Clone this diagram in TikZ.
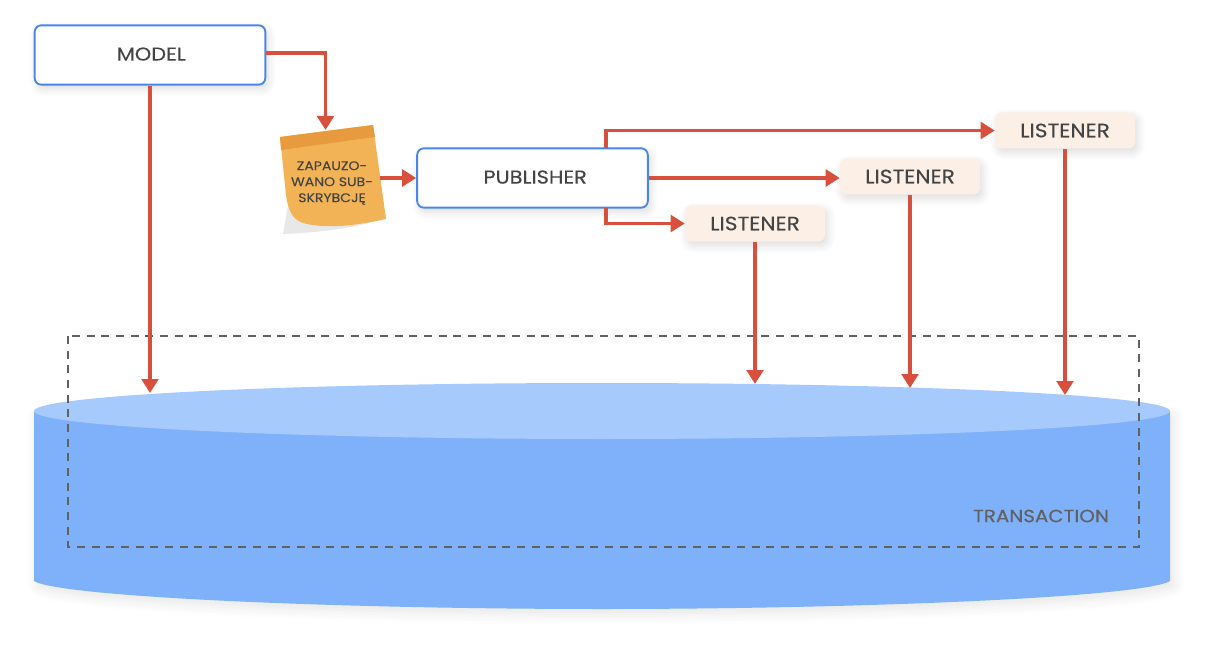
\documentclass[tikz,border=0pt]{standalone}
\usepackage{fontspec}
\setmainfont[FakeStretch=1.12,FakeBold=0.25]{Poppins}
\usepackage{tikz}
\usetikzlibrary{arrows.meta,positioning,shadows.blur}
\definecolor{arrowred}{HTML}{D94F3D}
\definecolor{boxblue}{HTML}{4A86E8}
\definecolor{dbbody}{HTML}{7EB1F9}
\definecolor{dbtop}{HTML}{A6CAFB}
\definecolor{listenfill}{HTML}{FBEFE6}
\definecolor{notefill}{HTML}{F2B356}
\definecolor{noteband}{HTML}{E89B3E}
\definecolor{textgrey}{HTML}{444444}

\begin{document}
\begin{tikzpicture}[x=0.75pt,y=-0.75pt,
  conn/.style={draw=arrowred,line width=2.6pt,-{Triangle[length=10.5pt,width=12.5pt]}},
  softshadow/.style={blur shadow={shadow blur steps=8,shadow xshift=2pt,shadow yshift=-3pt,shadow blur radius=6pt,shadow opacity=14}},
  mainbox/.style={draw=boxblue,line width=1.4pt,fill=white,rounded corners=5pt,minimum width=173pt,minimum height=44.5pt,inner sep=0pt,text depth=1.5pt,softshadow,font=\fontsize{14}{16}\selectfont,text=textgrey},
  listener/.style={fill=listenfill,rounded corners=5pt,minimum width=105pt,minimum height=27pt,inner sep=0pt,softshadow,font=\fontsize{14.5}{16}\selectfont,text=textgrey}]
  \useasboundingbox (0,0) rectangle (1230,652);

  % database
  \fill[dbbody,blur shadow={shadow blur steps=8,shadow xshift=3pt,shadow yshift=-4pt,shadow blur radius=8pt,shadow opacity=10}]
    (34,411) -- (34,581) .. controls (60,597) and (340,609) .. (602,609)
    .. controls (864,609) and (1144,597) .. (1170,581) -- (1170,411) -- cycle;
  \fill[dbtop] (602,411) ellipse [x radius=568,y radius=28];

  % transaction frame
  \draw[draw=black!62,line width=1.4pt,dash pattern=on 6pt off 5pt] (68,336) rectangle (1139,547);
  \node[font=\fontsize{13.3}{15}\selectfont,text=black!62,inner sep=0pt] (trans) at (1041,516) {TRANSACTION};

  % sticky note
  \fill[black!9] (288,205) -- (283,234) .. controls (310,233) and (345,230) .. (372,222) -- cycle;
  \fill[notefill] (280,137) -- (373,125) -- (386,219) .. controls (355,226) and (325,229) .. (303,223)
    .. controls (292,219) and (288,210) .. (286,195) -- cycle;
  \fill[noteband] (280,137) -- (373,125) -- (375,137) -- (281,150) -- cycle;
  \node[align=center,font=\fontsize{9.4}{12}\selectfont,text=textgrey,inner sep=0pt] (note) at (332,183)
    {ZAPAUZO-\\WANO SUB-\\SKRYBCJĘ};

  % boxes
  \node[mainbox] (model) at (150,55) {\hspace*{2pt}MODEL};
  \node[mainbox] (publisher) at (532.5,178) {\hspace*{4pt}PUBLISHER};
  \node[listener] (listenA) at (755,223.5) {LISTENER};
  \node[listener] (listenB) at (910,176.5) {LISTENER};
  \node[listener] (listenC) at (1065,130.5) {LISTENER};

  % free ends
  \coordinate (notetop) at (325.5,130);
  \coordinate (noteright) at (380,178);
  \coordinate (pubtop) at (606,148);
  \coordinate (pubbot) at (606,208);
  \coordinate (dbA) at (150,393);
  \coordinate (dbB) at (755,384);
  \coordinate (dbC) at (910,388);
  \coordinate (dbD) at (1065,395);

  \draw[conn] (model.south) -- (dbA);
  \draw[conn] (model.east |- 0,53) -| (notetop);
  \draw[conn] (noteright) -- (publisher.west);
  \draw[conn] (pubtop) |- (listenC.west);
  \draw[conn] (publisher.east) -- (publisher.east -| listenB.west);
  \draw[conn] (pubbot) |- (listenA.west);
  \draw[conn] (listenA.south) -- (dbB);
  \draw[conn] (listenB.south) -- (dbC);
  \draw[conn] (listenC.south) -- (dbD);
\end{tikzpicture}
\end{document}
